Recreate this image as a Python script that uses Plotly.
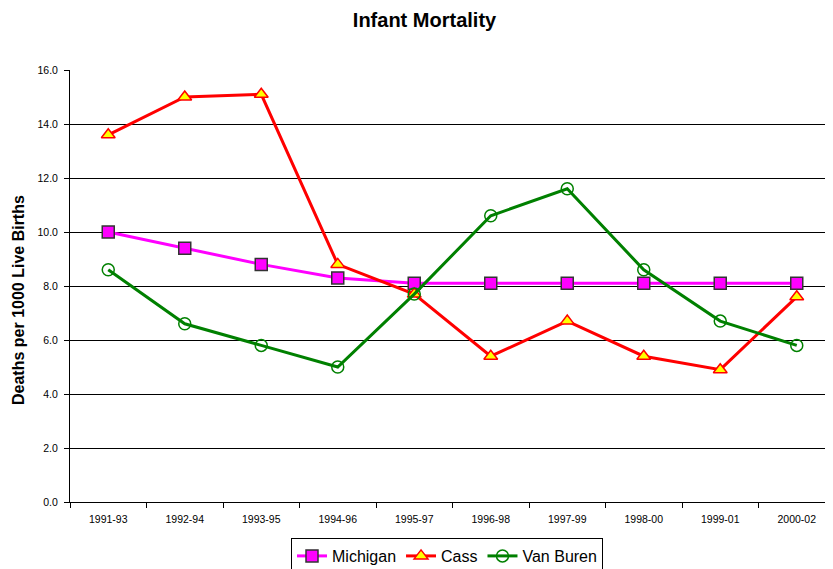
import plotly.graph_objects as go

periods = ["1991-93", "1992-94", "1993-95", "1994-96", "1995-97",
           "1996-98", "1997-99", "1998-00", "1999-01", "2000-02"]
michigan = [10.0, 9.4, 8.8, 8.3, 8.1, 8.1, 8.1, 8.1, 8.1, 8.1]
cass = [13.6, 15.0, 15.1, 8.8, 7.7, 5.4, 6.7, 5.4, 4.9, 7.6]
van_buren = [8.6, 6.6, 5.8, 5.0, 7.7, 10.6, 11.6, 8.6, 6.7, 5.8]
y_ticks = [0, 2, 4, 6, 8, 10, 12, 14, 16]

FONT = "Liberation Sans, Arial, sans-serif"

fig = go.Figure()
fig.add_trace(go.Scatter(
    x=periods, y=michigan, name="Michigan", mode="lines+markers",
    line=dict(color="#FF00FF", width=3),
    marker=dict(symbol="square", size=12, color="#FF00FF",
                line=dict(color="#333333", width=1.5)),
))
fig.add_trace(go.Scatter(
    x=periods, y=cass, name="Cass", mode="lines+markers",
    line=dict(color="#FF0000", width=3),
    marker=dict(symbol="triangle-up", size=12, color="#FFFF00",
                line=dict(color="#FF0000", width=1.5)),
))
fig.add_trace(go.Scatter(
    x=periods, y=van_buren, name="Van Buren", mode="lines+markers",
    line=dict(color="#008000", width=3),
    marker=dict(symbol="circle-open", size=12, color="#008000",
                line=dict(color="#008000", width=1.5)),
))

fig.update_layout(
    width=833, height=569,
    margin=dict(l=62, r=6, t=62, b=75, autoexpand=False),
    paper_bgcolor="white", plot_bgcolor="white",
    font=dict(family=FONT, color="black"),
    title=dict(text="<b>Infant Mortality</b>", x=0.5, xanchor="center",
               y=1 - 11.5 / 569, yanchor="middle", font=dict(size=20, family=FONT)),
    showlegend=True,
    legend=dict(orientation="h", xref="container", x=283 / 833, xanchor="left",
                yref="container", y=1 - 530 / 569, yanchor="top",
                bordercolor="black", borderwidth=1, font=dict(size=16, family=FONT),
                itemwidth=30, tracegroupgap=0, bgcolor="white"),
    xaxis=dict(
        type="category", tickson="boundaries", ticks="outside", ticklen=5,
        tickcolor="black", showline=True, linecolor="black", linewidth=1,
        showgrid=False, tickfont=dict(size=10.5, family=FONT), range=[-0.5, 9.5],
        ticklabelstandoff=7,
    ),
    yaxis=dict(
        range=[0, 16], tickvals=y_ticks, ticktext=[f"{v:.1f}" for v in y_ticks],
        ticks="outside", ticklen=5, tickcolor="black",
        showline=True, linecolor="black", linewidth=1,
        showgrid=True, gridcolor="black", gridwidth=1,
        tickfont=dict(size=10.5, family=FONT), zeroline=False,
        ticklabelstandoff=4,
    ),
    annotations=[dict(
        text="<b>Deaths per 1000 Live Births</b>", textangle=-90,
        xref="paper", yref="paper", x=(10 - 62) / 765, y=(494 - 292) / 432,
        xanchor="center", yanchor="middle", showarrow=False,
        font=dict(size=16, family=FONT),
    )],
)

fig.write_html("out.html")
